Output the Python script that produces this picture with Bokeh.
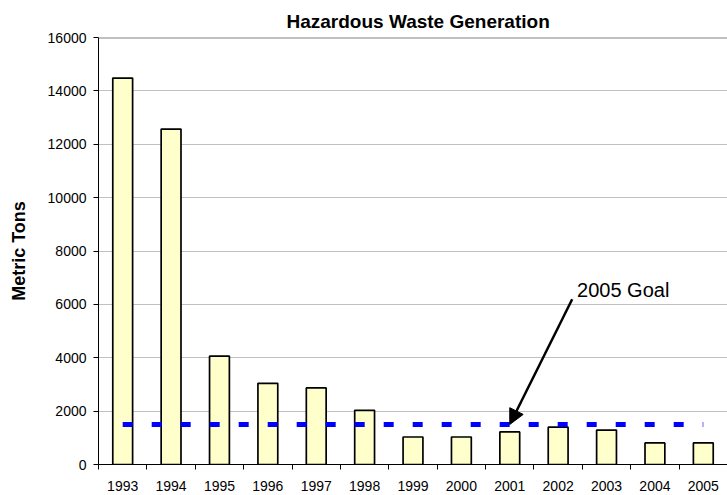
from bokeh.plotting import figure
from bokeh.models import (ColumnDataSource, FixedTicker, Range1d, Span, Arrow,
                          NormalHead, Label)
from bokeh.embed import file_html
from bokeh.resources import INLINE

# ---- data ----
years = ["1993", "1994", "1995", "1996", "1997", "1998", "1999",
         "2000", "2001", "2002", "2003", "2004", "2005"]
tons = [14480, 12570, 4060, 3040, 2870, 2030, 1030,
        1030, 1220, 1400, 1290, 810, 810]
goal = 1500
goal_year = "2001"
y_ticks = [0, 2000, 4000, 6000, 8000, 10000, 12000, 14000, 16000]

pos = [i + 1 for i in range(len(years))]
src = ColumnDataSource(dict(x=pos, tons=tons, year=years))

p = figure(width=727, height=495, output_backend="svg", toolbar_location=None,
           x_range=Range1d(0.5, len(years) + 0.5), y_range=Range1d(0, 16000),
           min_border_left=98, min_border_right=0, min_border_top=37,
           min_border_bottom=31)
p.background_fill_color = "white"
p.border_fill_color = "white"
p.outline_line_color = None

# title
p.title.text = "Hazardous Waste Generation"
p.title.text_font = "Liberation Sans"
p.title.text_font_size = "19px"
p.title.text_font_style = "bold"
p.title.text_color = "black"
p.title.align = "left"
p.title.offset = 188
p.title.standoff = 11

# bars
p.vbar(x="x", top="tons", width=0.41, source=src, fill_color="#FFFFCC",
       line_color="black", line_width=1.7)

# goal line
p.line(x=[pos[0], pos[-1]], y=[goal, goal], line_color="#0000FF",
       line_width=5, line_dash="10 19")

# top border line
p.add_layout(Span(location=y_ticks[-1], dimension="width",
                  line_color="#808080", line_width=2))

# annotation
tip_x = pos[years.index(goal_year)]
p.add_layout(Arrow(end=NormalHead(size=15, fill_color="black", line_color="black"),
                   x_start=tip_x + 1.29, y_start=6190, x_end=tip_x, y_end=goal,
                   line_color="black", line_width=2.5))
p.add_layout(Label(x=tip_x + 1.39, y=6530, text="2005 Goal",
                   text_font="Liberation Sans", text_font_size="20px",
                   text_color="black", text_baseline="alphabetic"))

# x axis
xa = p.xaxis[0]
xa.ticker = FixedTicker(ticks=pos, minor_ticks=[v - 0.5 for v in pos] + [pos[-1] + 0.5])
xa.major_label_overrides = {v: y for v, y in zip(pos, years)}
xa.major_tick_out = 0
xa.major_tick_in = 0
xa.minor_tick_out = 5
xa.minor_tick_in = 0
xa.minor_tick_line_color = "black"
xa.axis_line_color = "black"
xa.major_label_standoff = 11
xa.major_label_text_font = "Liberation Sans"
xa.major_label_text_font_size = "14px"
xa.major_label_text_color = "black"

# y axis
ya = p.yaxis[0]
ya.ticker = FixedTicker(ticks=y_ticks)
ya.major_tick_out = 5
ya.major_tick_in = 0
ya.minor_tick_line_color = None
ya.axis_line_color = "black"
ya.major_tick_line_color = "black"
ya.major_label_standoff = 7
ya.major_label_text_font = "Liberation Sans"
ya.major_label_text_font_size = "14px"
ya.major_label_text_color = "black"
ya.axis_label = "Metric Tons"
ya.axis_label_text_font = "Liberation Sans"
ya.axis_label_text_font_size = "18px"
ya.axis_label_text_font_style = "bold"
ya.axis_label_text_color = "black"
ya.axis_label_standoff = 16

p.xgrid.grid_line_color = None
p.ygrid.grid_line_color = "#C0C0C0"
p.ygrid.grid_line_width = 1

open("out.html", "w").write(file_html(p, INLINE))
